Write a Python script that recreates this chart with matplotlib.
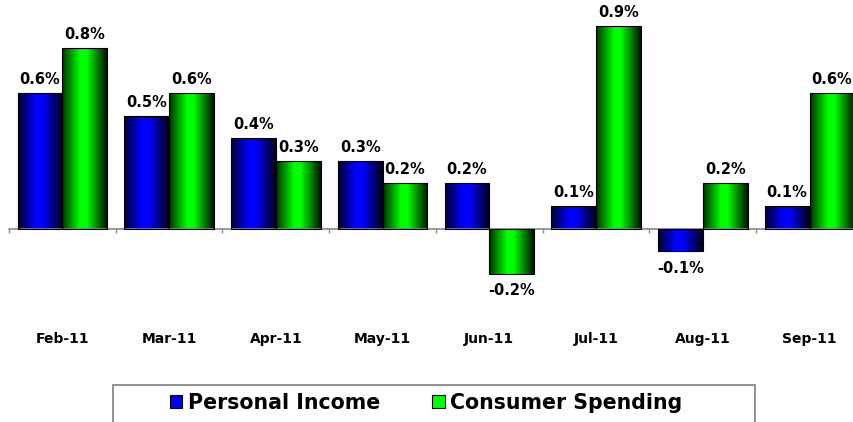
import numpy as np
import matplotlib
matplotlib.use("Agg")
from matplotlib import pyplot as plt
from matplotlib.patches import Patch, Rectangle

# data
months = ["Feb-11", "Mar-11", "Apr-11", "May-11", "Jun-11", "Jul-11", "Aug-11", "Sep-11"]
personal_income = [0.6, 0.5, 0.4, 0.3, 0.2, 0.1, -0.1, 0.1]
consumer_spending = [0.8, 0.6, 0.3, 0.2, -0.2, 0.9, 0.2, 0.6]
series_names = ["Personal Income", "Consumer Spending"]

blue = (0.0, 0.0, 1.0)
green = (0.0, 1.0, 0.0)


def shade(base, n=64):
    # dark edges, bright middle, like the excel bevel fill
    t = np.linspace(0, 1, n)
    k = np.interp(t, [0, 0.4, 0.55, 1.0], [0.2, 1.0, 1.0, 0.08])
    return (np.array(base)[None, :] * k[:, None])[None, :, :]


fig = plt.figure(figsize=(8.54, 4.22), dpi=100)
ax = fig.add_axes([9 / 854, 0.2983, 845 / 854, 0.6941])

x = np.arange(len(months))
w = 0.42
for vals, col in [(personal_income, blue), (consumer_spending, green)]:
    off = -w / 2 if col == blue else w / 2
    bars = ax.bar(x + off, vals, width=w, facecolor="none", edgecolor="black", linewidth=0.8, zorder=3)
    for b, v in zip(bars, vals):
        y0, y1 = sorted([b.get_y(), b.get_y() + b.get_height()])
        im = ax.imshow(shade(col), extent=[b.get_x(), b.get_x() + b.get_width(), y0, y1],
                       aspect="auto", interpolation="bilinear", zorder=2)
        im.set_clip_path(b)
        if v >= 0:
            ax.annotate(f"{v:.1f}%", (b.get_x() + b.get_width() / 2, v), xytext=(0, 6.5),
                        textcoords="offset points", ha="center", va="baseline",
                        fontsize=10.5, fontweight="bold")
        else:
            ax.annotate(f"{v:.1f}%", (b.get_x() + b.get_width() / 2, v), xytext=(0, -7),
                        textcoords="offset points", ha="center", va="top",
                        fontsize=10.5, fontweight="bold")

for s in ["top", "right", "left"]:
    ax.spines[s].set_visible(False)
ax.spines["bottom"].set_position(("data", 0))
ax.spines["bottom"].set_color("#888888")
ax.spines["bottom"].set_linewidth(1.2)
ax.set_yticks([])

ax.set_xticks(x)
ax.set_xticklabels(months, fontsize=10, fontweight="bold")
ax.set_xticks(np.arange(len(months) + 1) - 0.5, minor=True)
ax.tick_params(axis="x", which="major", length=0, pad=74.5)
ax.tick_params(axis="x", which="minor", length=3, width=1, color="#888888", direction="out")

# limits last, set_xticks would widen them
ax.set_xlim(-0.5, 7.416)
ax.set_ylim(-0.3, 1.0)

# legend box runs off the bottom edge
fig.add_artist(Rectangle((113 / 854, -0.1), (755 - 113) / 854, (1 - 385 / 422) + 0.1,
                         transform=fig.transFigure, fill=False, edgecolor="#808080", linewidth=1.2))
handles = [Patch(facecolor=blue, edgecolor="black", linewidth=0.8),
           Patch(facecolor=green, edgecolor="black", linewidth=0.8)]
fig.legend(handles, series_names, loc="center", bbox_to_anchor=(426 / 854, 1 - 403 / 422), ncol=2,
           frameon=False, prop={"size": 14.8, "weight": "bold"}, handlelength=0.62, handleheight=0.62,
           handletextpad=0.25, columnspacing=2.55, borderaxespad=0.)

fig.savefig("out.png", dpi=100)
